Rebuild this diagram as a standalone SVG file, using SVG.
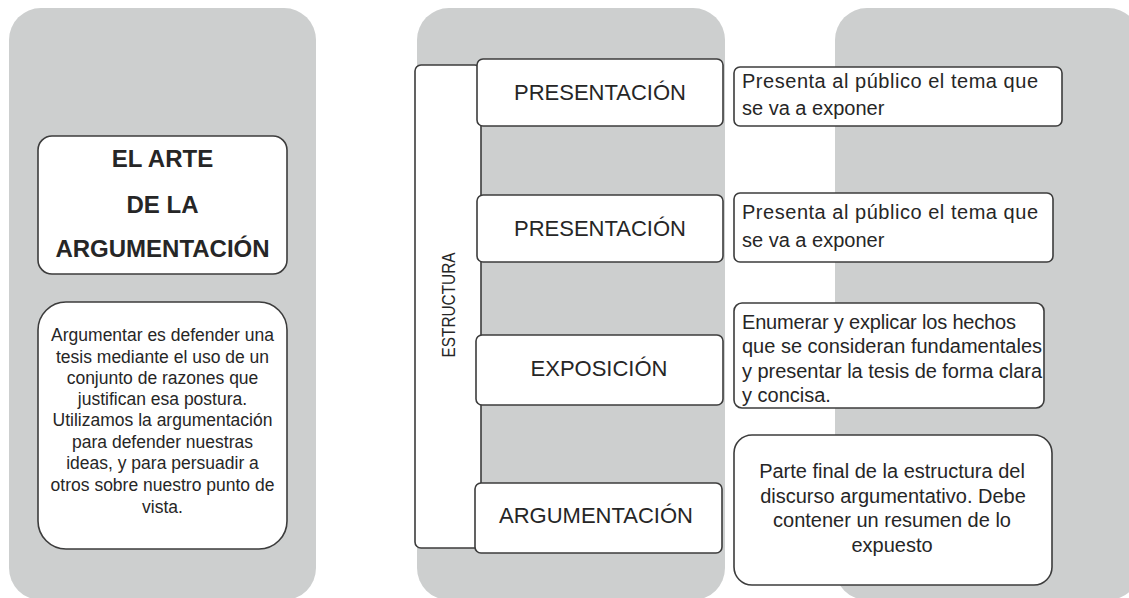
<svg xmlns="http://www.w3.org/2000/svg" width="1129" height="598" viewBox="0 0 1129 598">
<style>
.panel{fill:#cdcfcf;}
.box{fill:#ffffff;stroke:#3c3c3c;stroke-width:1.6;}
.t{font-family:"Liberation Sans",Arial,sans-serif;fill:#262626;}
.title{font-size:24px;font-weight:bold;text-anchor:middle;}
.desc{font-size:17.5px;text-anchor:middle;}
.head{font-size:22px;text-anchor:middle;}
.note{font-size:20px;}
.notec{font-size:20px;text-anchor:middle;}
.vert{font-size:19px;text-anchor:middle;}
</style>
<rect width="1129" height="598" fill="#ffffff"/>
<g id="panels">
<rect class="panel" x="9" y="8" width="307" height="592" rx="32"/>
<rect class="panel" x="417" y="8" width="308" height="592" rx="32"/>
<rect class="panel" x="835" y="8" width="305" height="592" rx="32"/>
</g>
<g id="connectors"></g>
<g id="title">
<rect class="box" x="38" y="136" width="249" height="138" rx="14"/>
<text class="t title" x="162.5" y="167">EL ARTE</text>
<text class="t title" x="162.5" y="213">DE LA</text>
<text class="t title" x="162.5" y="257">ARGUMENTACIÓN</text>
</g>
<g id="definition">
<rect class="box" x="38" y="302" width="249" height="247" rx="28"/>
<text class="t desc" x="162.5" y="341">Argumentar es defender una</text>
<text class="t desc" x="162.5" y="363">tesis mediante el uso de un</text>
<text class="t desc" x="162.5" y="384">conjunto de razones que</text>
<text class="t desc" x="162.5" y="405">justifican esa postura.</text>
<text class="t desc" x="162.5" y="426">Utilizamos la argumentación</text>
<text class="t desc" x="162.5" y="448">para defender nuestras</text>
<text class="t desc" x="162.5" y="469">ideas, y para persuadir a</text>
<text class="t desc" x="162.5" y="491">otros sobre nuestro punto de</text>
<text class="t desc" x="162.5" y="513">vista.</text>
</g>
<g id="estructura">
<rect class="box" x="415" y="65" width="66" height="483" rx="6"/>
<text class="t vert" transform="translate(454.5,305) rotate(-90)" textLength="105" lengthAdjust="spacingAndGlyphs">ESTRUCTURA</text>
</g>
<g id="presentacion1">
<rect class="box" x="477" y="59" width="246" height="67" rx="6"/>
<text class="t head" x="600" y="100">PRESENTACIÓN</text>
</g>
<g id="presentacion2">
<rect class="box" x="477" y="195" width="246" height="67" rx="6"/>
<text class="t head" x="600" y="236">PRESENTACIÓN</text>
</g>
<g id="exposicion">
<rect class="box" x="476" y="335" width="247" height="70" rx="6"/>
<text class="t head" x="599" y="376">EXPOSICIÓN</text>
</g>
<g id="argumentacion">
<rect class="box" x="475" y="483" width="247" height="70" rx="6"/>
<text class="t head" x="596" y="523">ARGUMENTACIÓN</text>
</g>
<g id="nota1">
<rect class="box" x="734" y="67" width="328" height="59" rx="6"/>
<text class="t note" x="742" y="88" textLength="296">Presenta al público el tema que</text>
<text class="t note" x="742" y="115">se va a exponer</text>
</g>
<g id="nota2">
<rect class="box" x="734" y="193" width="319" height="69" rx="6"/>
<text class="t note" x="742" y="219" textLength="296">Presenta al público el tema que</text>
<text class="t note" x="742" y="247">se va a exponer</text>
</g>
<g id="nota3">
<rect class="box" x="734" y="303" width="310" height="105" rx="8"/>
<text class="t note" x="742" y="329" textLength="274">Enumerar y explicar los hechos</text>
<text class="t note" x="742" y="353" textLength="300">que se consideran fundamentales</text>
<text class="t note" x="742" y="378" textLength="300">y presentar la tesis de forma clara</text>
<text class="t note" x="742" y="402">y concisa.</text>
</g>
<g id="nota4">
<rect class="box" x="734" y="435" width="318" height="150" rx="18"/>
<text class="t notec" x="892" y="478">Parte final de la estructura del</text>
<text class="t notec" x="893" y="503">discurso argumentativo. Debe</text>
<text class="t notec" x="892" y="527">contener un resumen de lo</text>
<text class="t notec" x="892" y="552">expuesto</text>
</g>
</svg>
